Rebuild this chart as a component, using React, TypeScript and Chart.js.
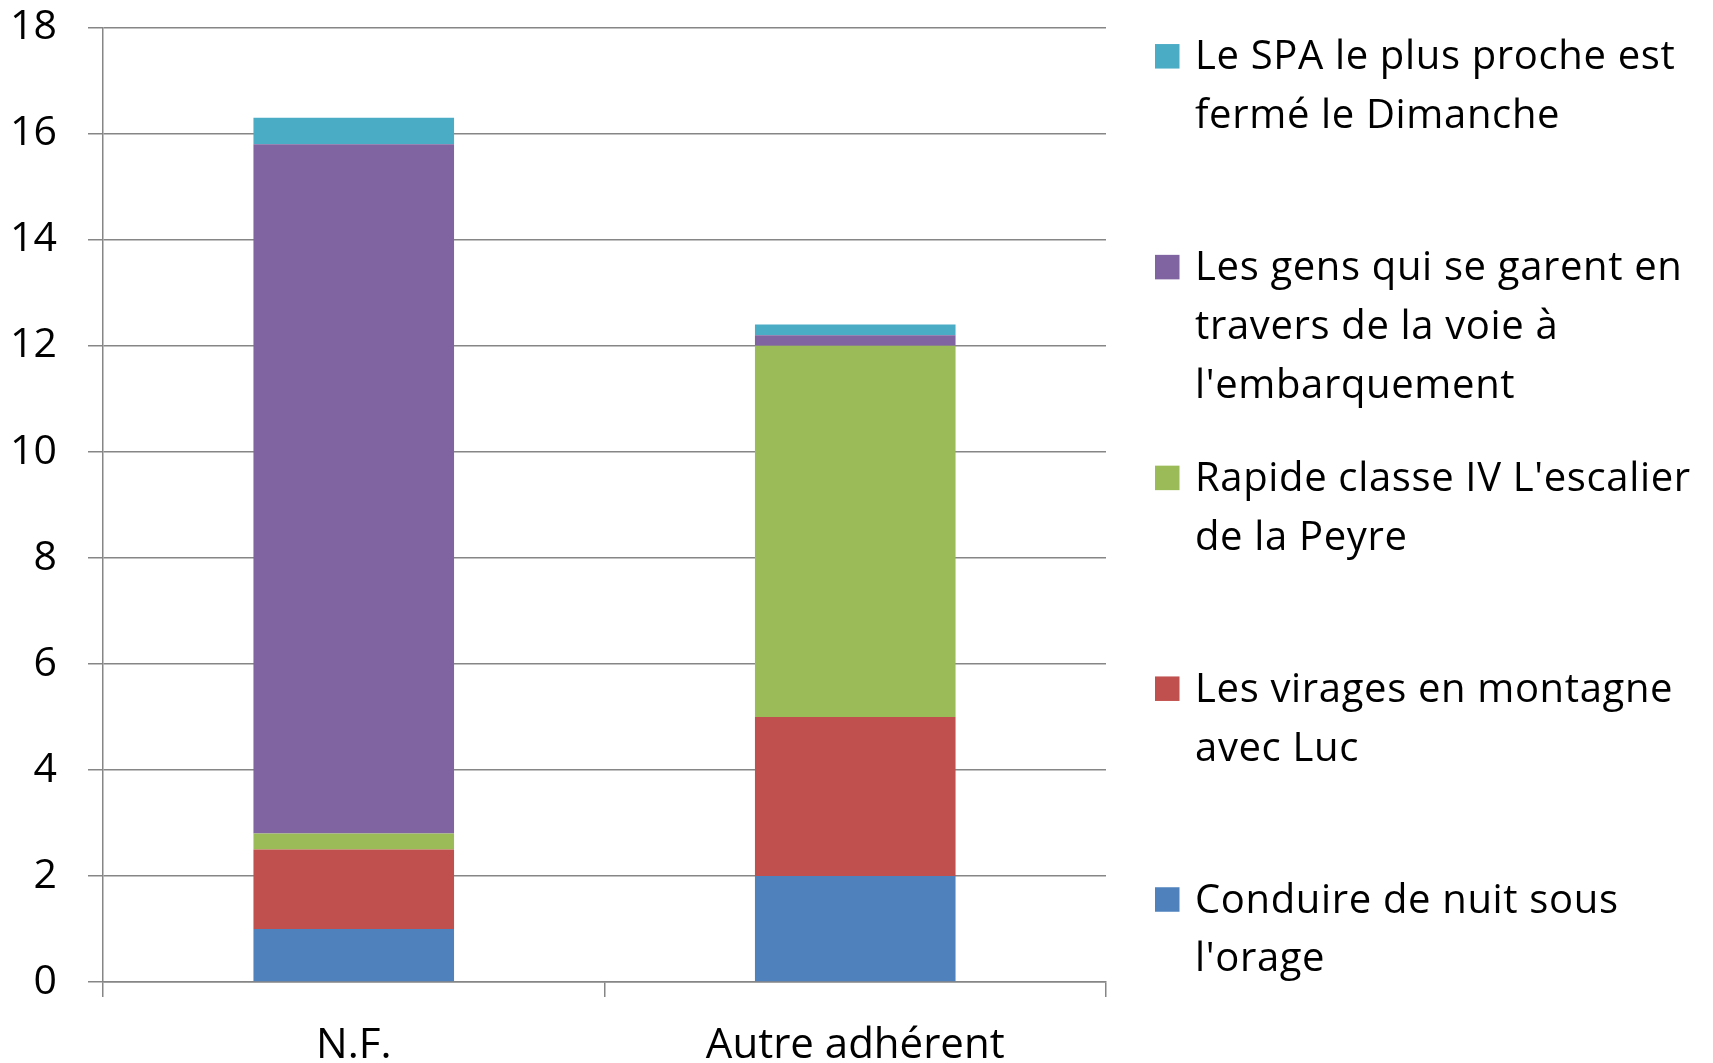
import React, { useEffect, useRef } from "react";
import { Chart, registerables } from "chart.js";

Chart.register(...registerables);

const categories = ["N.F.", "Autre adhérent"];

const seriesLabels: string[][] = [
  ["Conduire de nuit sous", "l'orage"],
  ["Les virages en montagne", "avec Luc"],
  ["Rapide classe IV L'escalier", "de la Peyre"],
  ["Les gens qui se garent en", "travers de la voie à", "l'embarquement"],
  ["Le SPA le plus proche est", "fermé le Dimanche"],
];

const conduireNuit = [1, 2];
const viragesMontagne = [1.5, 3];
const rapideClasseIV = [0.3, 7];
const gensGarent = [13, 0.2];
const spaFerme = [0.5, 0.2];

const seriesValues = [conduireNuit, viragesMontagne, rapideClasseIV, gensGarent, spaFerme];
const seriesColors = ["#4F81BD", "#C0504D", "#9BBB59", "#8064A2", "#4BACC6"];

const yTicks = [0, 2, 4, 6, 8, 10, 12, 14, 16, 18];

const FONT = "'Open Sans', Lato, sans-serif";
const GRID = "#868686";

const legendPlugin = {
  id: "sideLegend",
  afterDraw(chart: any) {
    const ctx = chart.ctx;
    const ds = chart.data.datasets;
    const n = ds.length;
    const boxX = 1155;
    const box = 24.5;
    const textX = 1195;
    const firstBaseline = 69.3;
    const itemStep = 210.8;
    const lineH = 58.8;
    ctx.save();
    ctx.font = `40px ${FONT}`;
    try {
      (ctx as any).letterSpacing = "0.65px";
    } catch (e) {}
    ctx.textAlign = "left";
    ctx.textBaseline = "alphabetic";
    for (let k = 0; k < n; k++) {
      const d = ds[n - 1 - k];
      const base = firstBaseline + k * itemStep;
      ctx.fillStyle = d.backgroundColor;
      ctx.fillRect(boxX, base - 13 - box / 2, box, box);
      ctx.fillStyle = "#000000";
      const lines: string[] = d.legendLines;
      lines.forEach((ln, i) => ctx.fillText(ln, textX, base + i * lineH));
    }
    ctx.restore();
  },
};

export default function App() {
  const ref = useRef<HTMLCanvasElement>(null);
  useEffect(() => {
    document.body.style.margin = "0";
    const canvas = ref.current!;
    const chart = new Chart(canvas, {
      type: "bar",
      data: {
        labels: categories,
        datasets: seriesValues.map((vals, i) => ({
          label: seriesLabels[i].join(" "),
          legendLines: seriesLabels[i],
          data: vals,
          backgroundColor: seriesColors[i],
          borderWidth: 0,
          barPercentage: 0.4,
          categoryPercentage: 1,
        })) as any,
      },
      options: {
        animation: false,
        responsive: false,
        maintainAspectRatio: false,
        layout: { padding: { left: 0, top: 27.7, right: 607, bottom: 0 } },
        plugins: {
          legend: { display: false },
          tooltip: { enabled: false },
        },
        scales: {
          x: {
            stacked: true,
            afterFit: (s: any) => {
              s.height = 81;
              s.paddingLeft = 0;
              s.paddingRight = 0;
            },
            grid: {
              display: true,
              drawOnChartArea: false,
              drawTicks: true,
              tickLength: 15,
              color: GRID,
              lineWidth: 1.5,
              offset: true,
            },
            border: { display: true, color: GRID, width: 1.5 },
            ticks: {
              color: "#000000",
              font: { family: FONT, size: 42 },
              padding: 24,
              maxRotation: 0,
            },
          },
          y: {
            stacked: true,
            min: 0,
            max: 18,
            afterFit: (s: any) => {
              s.width = 103;
              s.paddingTop = 0;
              s.paddingBottom = 0;
            },
            afterBuildTicks: (s: any) => {
              s.ticks = yTicks.map((v) => ({ value: v }));
            },
            grid: {
              color: GRID,
              lineWidth: 1.5,
              tickLength: 15,
              drawTicks: true,
            },
            border: { display: true, color: GRID, width: 1.5 },
            ticks: {
              color: "#000000",
              font: { family: FONT, size: 41 },
              padding: 31,
            },
          },
        },
      },
      plugins: [legendPlugin],
    });
    return () => chart.destroy();
  }, []);
  return (
    <div style={{ width: 1713, height: 1063, background: "#ffffff" }}>
      <canvas ref={ref} width={1713} height={1063} style={{ display: "block" }} />
    </div>
  );
}
